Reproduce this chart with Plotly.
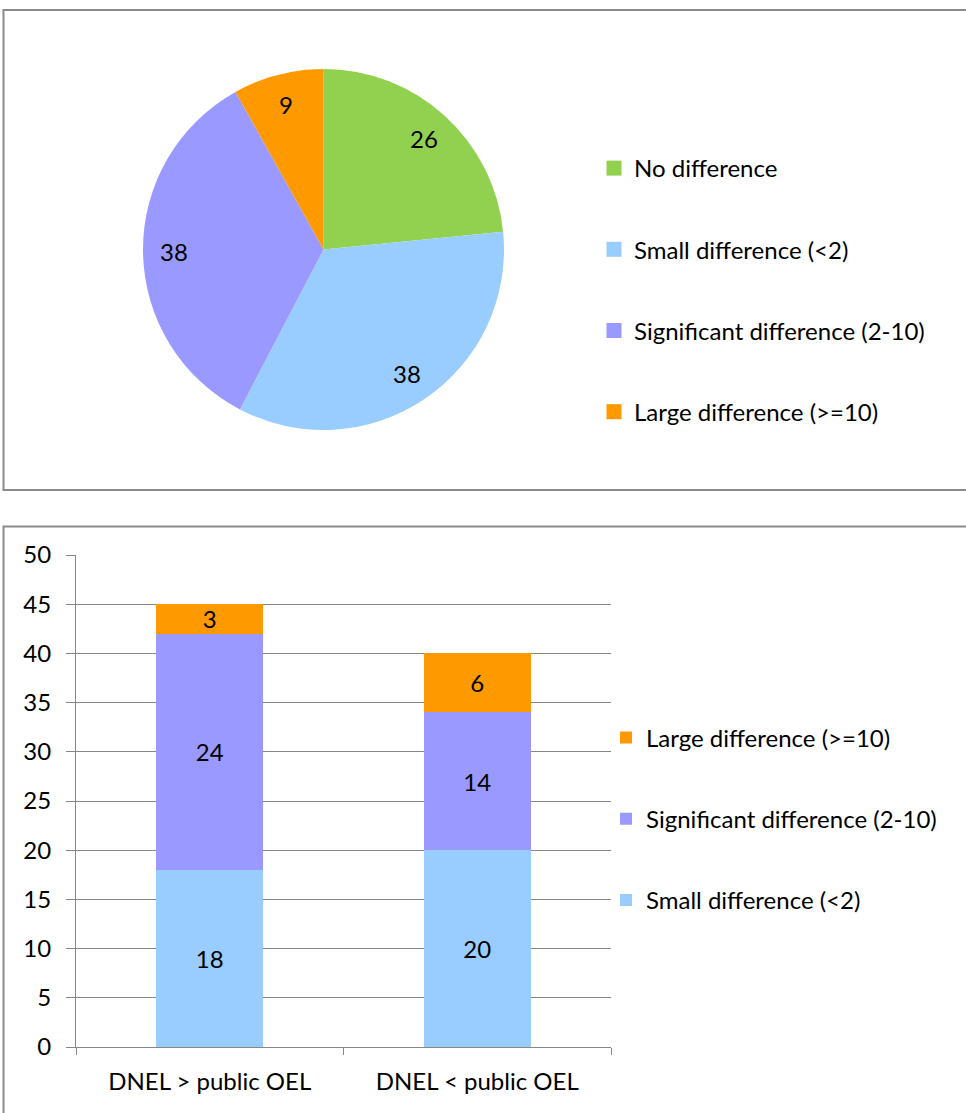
import math
import plotly.graph_objects as go

W, H = 966, 1113

# ---------------- data ----------------
pie_labels = ["No difference", "Small difference (<2)",
              "Significant difference (2-10)", "Large difference (>=10)"]
pie_values = [26, 38, 38, 9]
pie_colors = ["#92D050", "#99CCFF", "#9999FF", "#FF9900"]

bar_categories = ["DNEL > public OEL", "DNEL < public OEL"]
bar_series = ["Small difference (<2)", "Significant difference (2-10)",
              "Large difference (>=10)"]
small_vals = [18, 20]
significant_vals = [24, 14]
large_vals = [3, 6]
bar_values = [small_vals, significant_vals, large_vals]
bar_colors = ["#99CCFF", "#9999FF", "#FF9900"]
y_ticks = list(range(0, 55, 5))

FONT = "Lato"
FS = 24
GRID = "#878787"

fig = go.Figure()

# ---------------- pie ----------------
cx, cy, r = 323.5, 249.5, 180.5  # pixel geometry of the pie area
fig.add_trace(go.Pie(
    labels=pie_labels, values=pie_values, sort=False, direction="clockwise",
    rotation=0, marker=dict(colors=pie_colors, line=dict(width=0)),
    textinfo="none", hoverinfo="label+value", showlegend=False,
    domain=dict(x=[(cx - r) / W, (cx + r) / W], y=[1 - (cy + r) / H, 1 - (cy - r) / H]),
))

# value labels inside the slices, at ~83% of the radius
total = sum(pie_values)
cum = 0
annotations = []
for v in pie_values:
    theta = 2 * math.pi * (cum + v / 2) / total
    cum += v
    px = cx + 0.83 * r * math.sin(theta)
    py = cy - 0.83 * r * math.cos(theta)
    annotations.append(dict(x=px / W, y=1 - py / H, xref="paper", yref="paper",
                            xanchor="center", yanchor="middle",
                            text=str(v), showarrow=False,
                            font=dict(family=FONT, size=FS, color="black")))

# legend entries for the pie (one group per slice for spacing)
for lab, col in zip(pie_labels, pie_colors):
    fig.add_trace(go.Scatter(
        x=[None], y=[None], mode="markers", name=lab, legend="legend",
        legendgroup=lab, marker=dict(symbol="square", size=15, color=col),
        xaxis="x2", yaxis="y2", hoverinfo="skip"))

# ---------------- stacked bars ----------------
for i, (name, vals, col) in enumerate(zip(bar_series, bar_values, bar_colors)):
    fig.add_trace(go.Bar(
        x=bar_categories, y=vals, name=name, marker=dict(color=col, line=dict(width=0)),
        text=[str(v) for v in vals], textposition="inside", insidetextanchor="middle",
        textangle=0, textfont=dict(family=FONT, size=FS, color="black"),
        legend="legend2", legendgroup=name, legendrank=1000 - i,
        hoverinfo="x+y+name"))

box_line = dict(color="#8A8A8A", width=2)
shapes = [
    dict(type="rect", xref="paper", yref="paper", x0=3.5 / W, x1=1.02,
         y0=1 - 490 / H, y1=1 - 10 / H, line=box_line, fillcolor="rgba(0,0,0,0)", layer="below"),
    dict(type="rect", xref="paper", yref="paper", x0=3.5 / W, x1=1.02,
         y0=-0.02, y1=1 - 526.5 / H, line=box_line, fillcolor="rgba(0,0,0,0)", layer="below"),
]

fig.update_layout(
    template="none",
    width=W, height=H, margin=dict(l=0, r=0, t=0, b=0, pad=0, autoexpand=False),
    paper_bgcolor="white", plot_bgcolor="white",
    font=dict(family=FONT, size=FS, color="black"),
    barmode="stack", bargap=0.6,
    uniformtext=dict(minsize=FS, mode="show"),
    annotations=annotations, shapes=shapes,
    xaxis=dict(domain=[76 / W, 611 / W], type="category", range=[-0.5, 1.5],
               automargin=False,
               showgrid=False, showline=True, linecolor=GRID, linewidth=1,
               ticks="outside", tickson="boundaries", ticklen=7, tickcolor=GRID,
               tickwidth=1, ticklabelstandoff=13,
               tickfont=dict(family=FONT, size=FS, color="black"), anchor="y"),
    yaxis=dict(domain=[1 - 1047 / H, 1 - 555 / H], range=[0, 50],
               automargin=False,
               tickmode="array", tickvals=y_ticks, ticktext=[str(t) for t in y_ticks],
               showgrid=True, gridcolor=GRID, gridwidth=1,
               showline=True, linecolor=GRID, linewidth=1, zeroline=False,
               ticks="outside", ticklen=9, tickcolor=GRID, tickwidth=1,
               ticklabelstandoff=10,
               tickfont=dict(family=FONT, size=FS, color="black"), anchor="x"),
    xaxis2=dict(visible=False, domain=[0.0, 0.01], anchor="y2", automargin=False),
    yaxis2=dict(visible=False, domain=[0.99, 1.0], anchor="x2", automargin=False),
    legend=dict(x=594 / W, xanchor="left", y=1 - 290 / H, yanchor="middle",
                tracegroupgap=47, itemsizing="trace", bgcolor="rgba(0,0,0,0)",
                borderwidth=0,
                font=dict(family=FONT, size=FS, color="black")),
    legend2=dict(x=606 / W, xanchor="left", y=1 - 819 / H, yanchor="middle",
                 tracegroupgap=47, traceorder="grouped", bgcolor="rgba(0,0,0,0)",
                 borderwidth=0,
                 font=dict(family=FONT, size=FS, color="black")),
)

fig.write_html("out.html")
